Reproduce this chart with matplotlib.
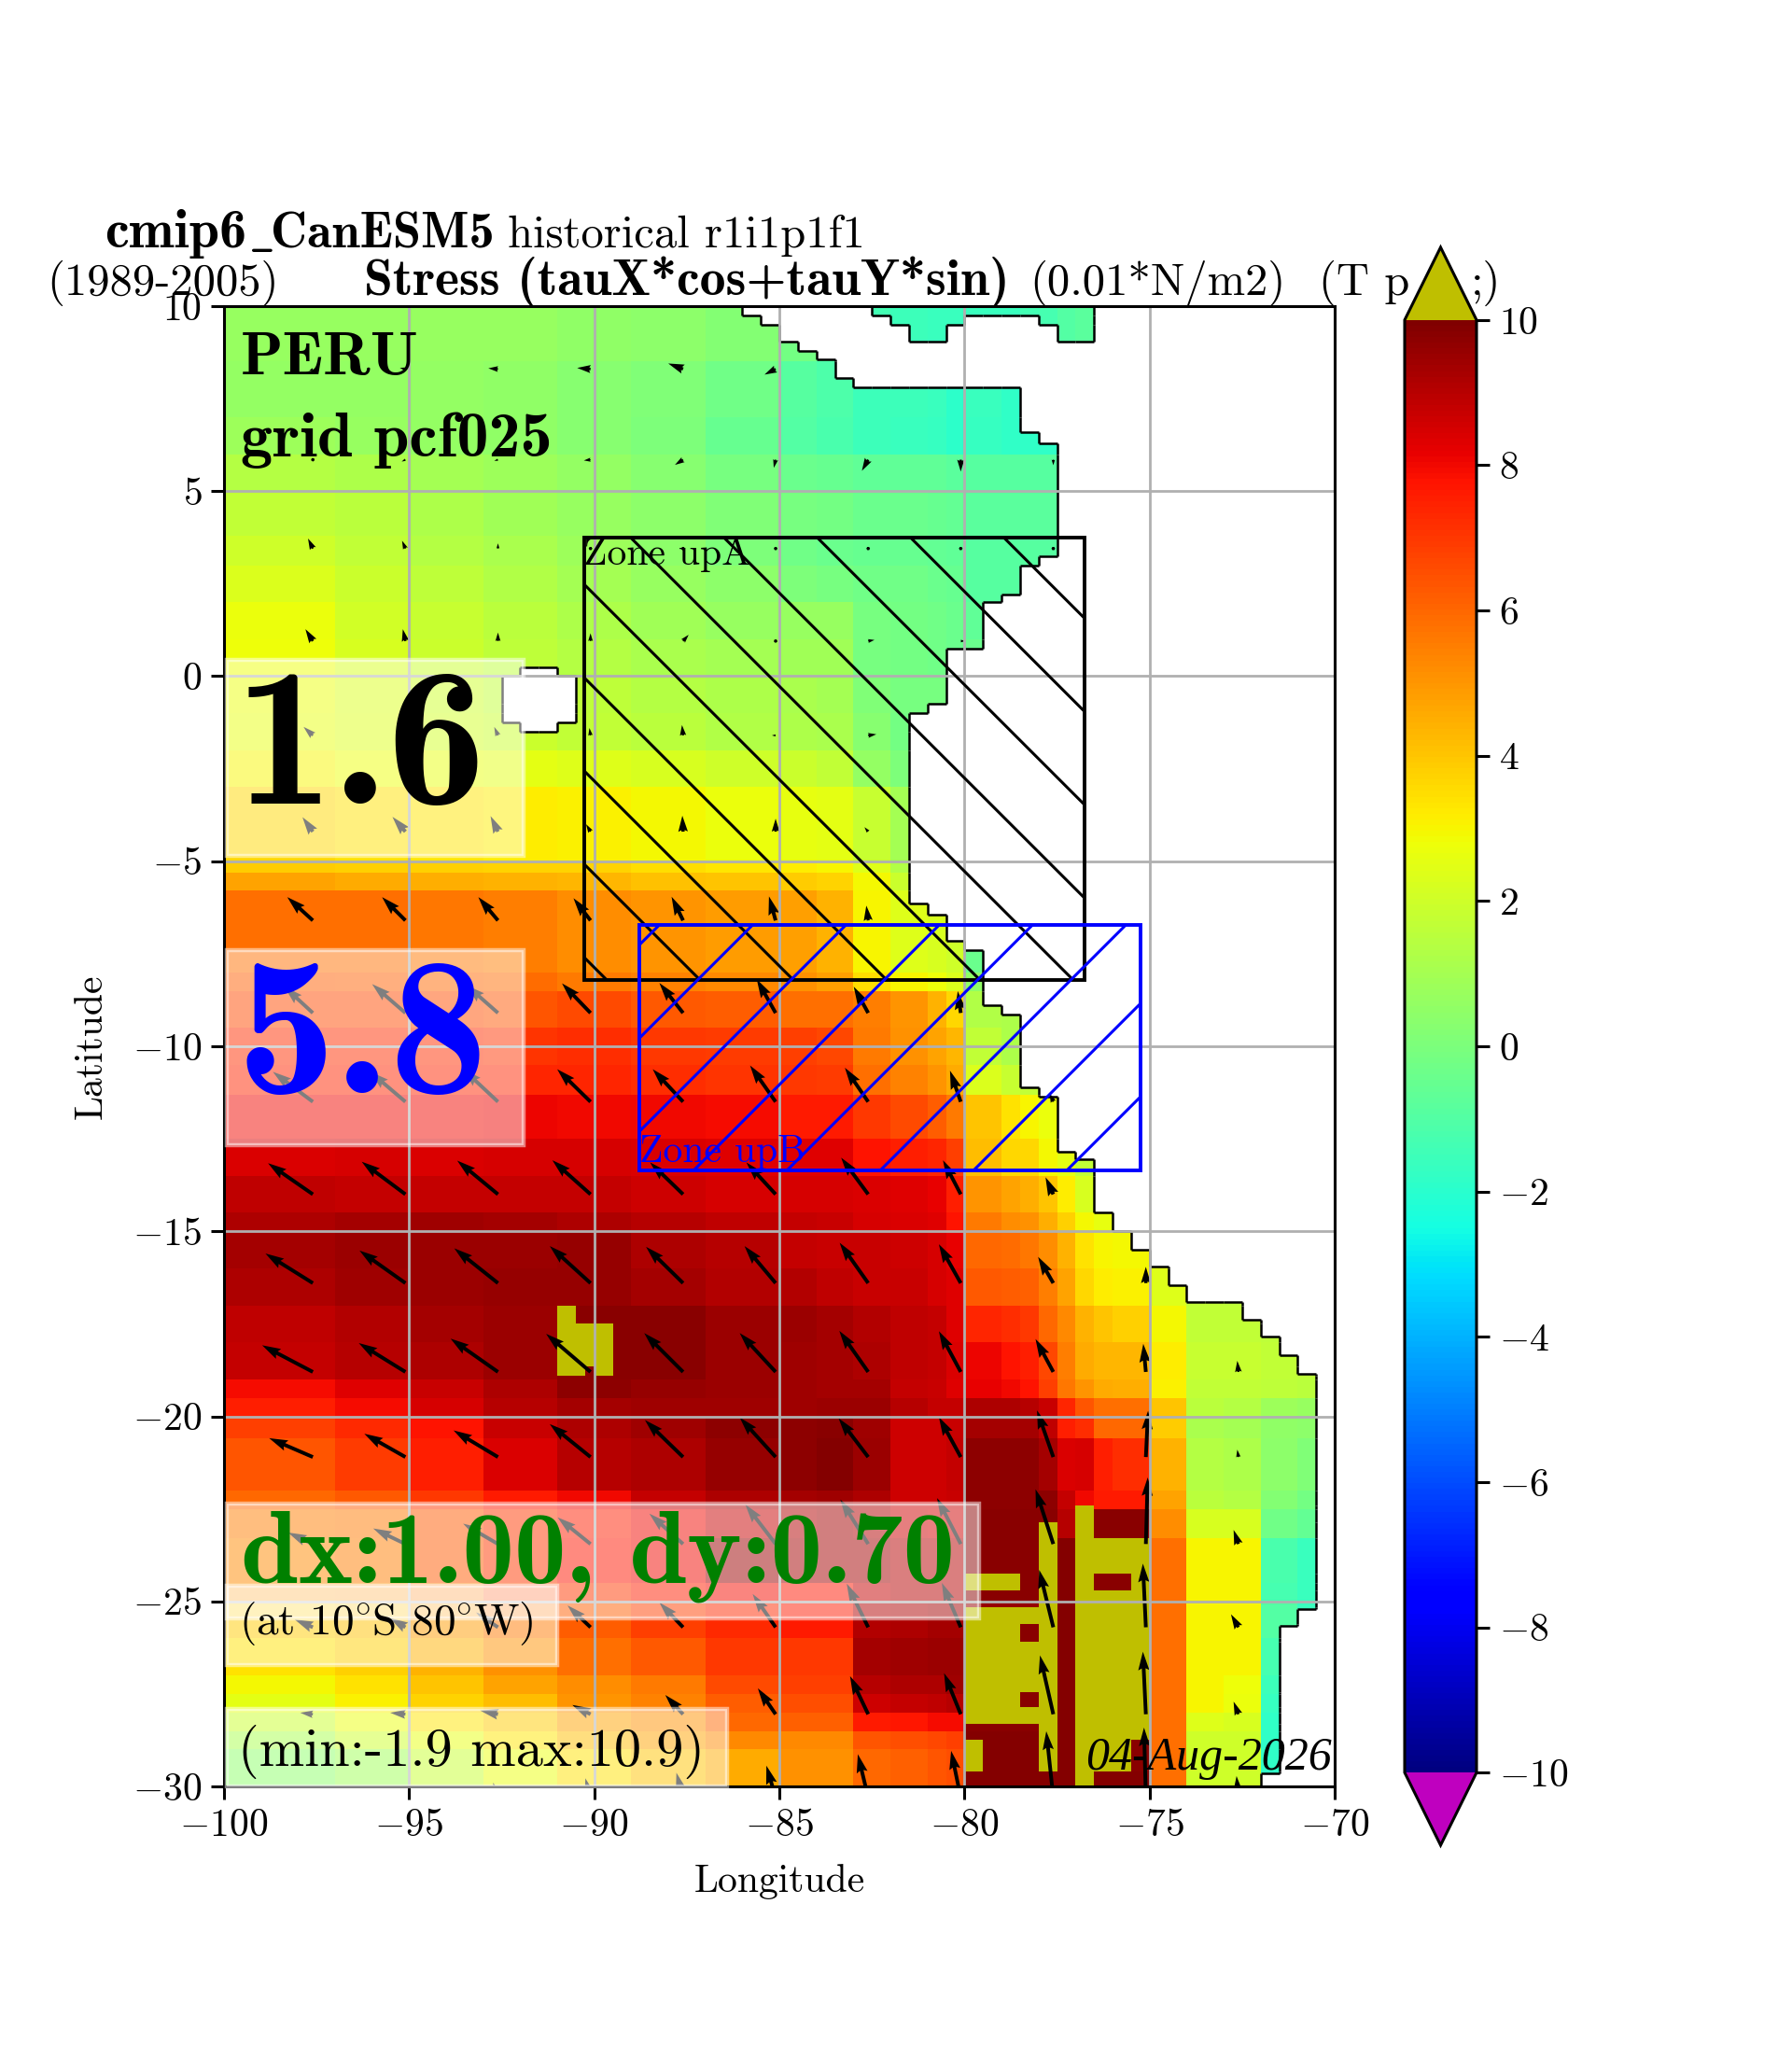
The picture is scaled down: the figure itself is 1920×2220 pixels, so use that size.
import numpy as np
import matplotlib
matplotlib.use("Agg")
import matplotlib.pyplot as plt
from matplotlib.collections import LineCollection
from matplotlib.patches import Rectangle

plt.rcParams["font.family"] = ["cmr10"]
plt.rcParams["mathtext.fontset"] = "cm"
plt.rcParams["axes.formatter.use_mathtext"] = True
plt.rcParams["font.size"] = 15
plt.rcParams["axes.linewidth"] = 1.1
for side in ["xtick", "ytick"]:
    plt.rcParams[side + ".major.size"] = 5
    plt.rcParams[side + ".major.width"] = 1.1

# left edges of the colour blocks, last one closes the grid
field_lon = [-100, -97, -95, -93, -91, -89, -87, -85, -84, -83, -82, -81, -80.5, -80,
             -79, -78.5, -78, -77.5, -77, -76.5, -76, -75, -74, -73, -72, -71, -70]
field_lat = [10, 8.5, 7, 6, 5, 3.8, 3, 2, 1, 0, -1, -2, -3, -5, -5.3, -5.8, -8, -8.5, -9.5,
             -10.5, -11.3, -12.5, -13.5, -14.5, -15, -16, -17, -18, -19, -19.5, -20, -20.6,
             -22, -22.5, -23.3, -24.5, -25, -26, -27, -27.5, -28, -28.5, -29, -30]

# stress values, one list per latitude band (short lists stop at the coast)
field_rows = [
    [.7, .7, .7, .7, .5, .4, .2, -.2, -.6, -1.4, -1.5, -1.6, -1.6, -1.6, -1.6, -1.4, -1.3, -1, -.8, -.8],
    [.6, .6, .6, .5, .3, .1, -.3, -.9, -1.1, -1.5, -1.5, -1.6, -1.9, -1.6, -1.8, -1.8, -1.8, -1.8],
    [.8, .7, .6, .5, .3, 0, -.5, -1, -1.2, -1.5, -1.6, -1.7, -1.9, -1.7, -1.8, -1.8, -1.8, -1.8],
    [1.4, 1.2, 1, .8, .6, .3, -.1, -.4, -.5, -.7, -.7, -.7, -.8, -.9, -.9, -.9, -.9, -.9],
    [1.7, 1.5, 1.2, .9, .7, .4, .1, -.1, -.2, -.4, -.4, -.5, -.6, -.8, -.8, -.8, -.8, -.8],
    [2, 1.7, 1.4, 1.1, .8, .4, 0, -.3, -.4, -.5, -.5, -.6, -.7, -.9, -.9, -.9, -.9, -.9, -.9],
    [2.3, 1.9, 1.6, 1.3, 1, .7, .4, 0, -.1, -.3, -.3, -.4, -.5, -.9, -.9, -.9, -.9],
    [2.7, 2.1, 1.8, 1.5, 1.2, .9, .7, .7, .7, -.1, -.2, -.3, -.4, -.7, -.7],
    [2.8, 2.2, 1.9, 1.6, 1.4, 1.1, 1, .9, .9, -.1, -.2, -.3, -.4, -.4],
    [2.7, 2.3, 2, 1.7, 1.6, 1.4, 1.2, 1.1, 1, .1, -.1, -.1, -.1],
    [2.6, 2.4, 2.1, 1.9, 1.7, 1.5, 1.3, 1.2, 1.1, .3, -.2, -.2],
    [3, 2.8, 2.6, 2.5, 2.4, 2.2, 2, 1.9, 1.7, .6, 0, 0],
    [3.6, 3.4, 3.3, 3.2, 3.1, 2.9, 2.7, 2.6, 2.5, 1.8, 1, 1],
    [3.9, 3.8, 3.8, 3.7, 3.7, 3.5, 3.3, 3.2, 3, 2.4, 1.3, 1.3],
    [4.7, 4.6, 4.5, 4.4, 4.3, 4.1, 4, 3.9, 3.7, 2.9, 1.9, 1.5, 1.5],
    [5.8, 5.8, 5.7, 5.5, 5.2, 5, 4.9, 4.8, 4.4, 3, 2.4, 2.2, 2, -.4],
    [6.2, 6.1, 6, 5.9, 5.6, 5.4, 5.3, 5.1, 4.8, 3.5, 3, 2.8, 2.3, .5],
    [6.6, 6.6, 6.5, 6.4, 6.6, 6.3, 6.2, 5.8, 5.8, 5.5, 5, 4.4, 3.6, 1.3, 1.2],
    [7.2, 7.2, 7.2, 7.1, 7.2, 7, 6.9, 6.8, 6.7, 5.6, 5.1, 4.7, 4.3, 1.7, 1.2, 1.2],
    [7.4, 7.4, 7.4, 7.4, 7.4, 7.2, 7.1, 7, 6.9, 5.8, 5.4, 5, 4.6, 2.3, 1.8, 1.7, 1.7],
    [8, 8, 8, 8.1, 8, 8, 7.9, 7.6, 7.6, 7, 6.6, 6.2, 5.6, 4, 3.4, 3, 2.7, 2.7],
    [8.4, 8.5, 8.4, 8.5, 8.5, 8.4, 8.3, 8.3, 8.3, 7.8, 7.5, 7.4, 6.8, 4.2, 3.6, 3.6, 2.9, 2.5, 1.7, 1.7],
    [8.9, 8.8, 8.8, 8.8, 8.8, 8.6, 8.5, 8.5, 8.5, 8.4, 8.3, 8.2, 7.5, 5, 4.7, 4.5, 4, 3.2, 2.2, 2.2],
    [9.2, 9.3, 9.4, 9.3, 9.2, 9, 8.9, 8.8, 8.7, 8.5, 8.4, 8.3, 7.8, 5.6, 5.2, 5.1, 4.5, 3.8, 2.9, 2.6],
    [9.3, 9.5, 9.5, 9.5, 9.6, 9.2, 9, 8.8, 8.7, 8.7, 8.6, 8.5, 8.2, 6, 5.9, 5.7, 5.2, 4.4, 3.4, 3, 2.9, 2.9],
    [9.2, 9.4, 9.5, 9.6, 9.6, 9.3, 9.1, 9.1, 8.9, 8.7, 8.7, 8.5, 8.3, 6.3, 6.2, 6.1, 5.5, 4.7, 3.6, 3.2, 3.1, 2.4, 1.7, 1.6],
    [8.9, 9.1, 9.3, 9.5, 9.8, 9.8, 9.5, 9.5, 9.3, 9.1, 8.9, 8.8, 8.3, 7.4, 7.2, 7, 6, 5.3, 4.4, 4, 3.8, 2.9, 1.7, 1.7, 1.6],
    [8.8, 9, 9.2, 9.5, 9.8, 9.8, 9.5, 9.4, 9.3, 9.2, 8.9, 8.8, 8.4, 8.1, 7.8, 7.5, 6.7, 5.5, 4.6, 4.3, 4.3, 3.2, 1.8, 1.8, 1.7, 1.6],
    [7.9, 8.3, 8.7, 9.2, 9.7, 9.6, 9.5, 9.4, 9.3, 9.3, 8.8, 8.7, 8.3, 8.2, 8, 7.8, 6.8, 5.7, 5, 4.6, 4.5, 3.1, 1.7, 1.7, 1.6, 1.5],
    [7.5, 7.9, 8.5, 9, 9.3, 9.4, 9.4, 9.4, 9.5, 9.5, 9, 8.8, 8.8, 9.2, 9.2, 9, 8.7, 7.4, 6.4, 5.8, 5.8, 4, 1.5, 1.4, .8, .7],
    [6.8, 7.3, 7.8, 8.7, 9.2, 9.4, 9.7, 9.7, 9.8, 9.4, 8.6, 8.6, 8.7, 9.3, 9.3, 9.3, 8.9, 7.5, 7.2, 6, 6, 3.9, 1.1, 1, .5, .4],
    [6.4, 6.9, 7.5, 8.4, 9, 9.2, 9.6, 9.7, 9.9, 9.5, 8.6, 8.6, 8.8, 9.7, 9.7, 9.7, 9.3, 8.4, 8.5, 7.5, 7.2, 4.4, 1.4, 1.2, .4, .1],
    [6, 6.3, 7, 7.6, 8, 8.8, 9.2, 9.3, 9.4, 9.2, 8.6, 8.6, 8.7, 9.7, 9.7, 9.7, 9.7, 8.8, 8, 7.6, 7.6, 4.7, 1.5, 1.4, .2, -.2],
    [5.5, 5.6, 6.3, 7, 7.5, 8, 8.7, 9.1, 9.3, 9.1, 8.6, 8.5, 8.6, 9.8, 9.8, 9.8, 9.8, 9, 9.9, 9.8, 9.8, 5.2, 2.2, 2.2, -.3, -.6],
    [5.3, 5.5, 6.3, 7, 7.7, 8, 9.5, 9.3, 9.3, 9.3, 9, 9, 9, 9.8, 9.8, 9.8, 9.8, 9.9, 9.9, 9.9, 9.9, 5.8, 3, 3, -1.2, -1.6],
    [5, 5.1, 5.5, 6.5, 7, 7.5, 7.9, 7.7, 7.7, 8.8, 9, 9, 9, 9.8, 9.8, 9.8, 9.8, 9.9, 9.9, 9.9, 9.9, 5.8, 3, 3, -1.3, -1.6],
    [3.9, 4.1, 4.9, 5.6, 6.2, 6.8, 7.3, 7.6, 7.6, 9.1, 9.2, 9.3, 9.3, 9.6, 9.6, 9.6, 9.8, 9.9, 9.9, 9.9, 9.9, 5.8, 3, 3, -1, -1.6],
    [3.4, 3.8, 4.4, 5.1, 5.8, 6.3, 7, 7, 7, 9.3, 9.4, 9.5, 9.5, 9.6, 9.6, 9.6, 9.8, 9.9, 9.9, 9.9, 9.9, 5.8, 3, 3, -1.3, -1.6],
    [2.9, 3.4, 4, 4.7, 5.2, 5.6, 6.6, 6.8, 6.8, 9, 9.2, 9.2, 9.4, 9.6, 9.6, 9.6, 9.8, 9.9, 9.9, 9.9, 9.9, 5.8, 3, 2.8, -1.5, -1.6],
    [2.5, 3.1, 3.7, 4.2, 5, 5.4, 6.2, 6.5, 6.5, 8.6, 8.8, 8.9, 9, 9.6, 9.6, 9.6, 9.8, 9.9, 9.9, 9.9, 9.9, 5.8, 3, 2.7, -1.7, -1.6],
    [1.9, 2.7, 3.3, 3.9, 4.7, 5.1, 6, 6.1, 6.1, 7.6, 7.7, 7.9, 7.9, 9.8, 9.8, 9.8, 9.8, 9.9, 9.9, 9.9, 9.9, 5.8, 2.4, 2.2, -1.8, -1.6],
    [1.1, 2, 2.6, 3.3, 4.2, 4.7, 5.3, 5.3, 5.3, 6.4, 6.5, 6.7, 6.8, 9.9, 9.9, 9.9, 9.9, 9.9, 9.9, 9.9, 9.9, 5.8, 2, 2, -1.8, -1.6],
    [.4, .9, 1.8, 2.7, 3.4, 4, 4.6, 5.1, 5.1, 6, 6.1, 6.4, 6.5, 9.9, 9.9, 9.9, 9.9, 9.9, 9.9, 9.9, 9.9, 5.8, 2, 2, -1.8, -1.6],
]

# blocks above the colour range: lon west, lon east, lat north, lat south
over_blocks = [
    (-91, -90.5, -17, -18.9), (-90.5, -89.5, -17.5, -18.9),
    (-78, -77.5, -22.85, -29.6), (-77, -76.5, -22.4, -30), (-76.5, -75, -23.3, -29.6),
    (-80, -78.5, -24.25, -24.7), (-80, -78, -25.15, -28.3), (-80, -79.5, -28.75, -29.6),
]
# dark holes left inside those blocks
hole_blocks = [
    (-90.25, -90, -18.65, -18.9), (-76.5, -75.5, -24.25, -24.7), (-75.5, -75, -28.75, -29.6),
    (-78.5, -78, -25.6, -26.1), (-78.5, -78, -27.45, -27.85),
]

# coast: north edge of each step and the eastern limit of the sea below it
coast_lat = [10, 9.75, 9.5, 9.05, 8.8, 8.55, 8.05, 7.8, 6.6, 6.3, 3.25, 3, 2.2, 2, 0.75, -0.75, -1,
             -6.15, -6.45, -7.15, -7.4, -8.9, -9.15, -11.1, -11.35, -12.85, -13.05, -14.5, -15,
             -15.5, -15.95, -16.45, -16.9, -17.4, -17.85, -18.35, -18.85, -25.2, -25.65, -29.65, -30]
coast_lon = [-86, -85.5, -85, -84.5, -84, -83.5, -83, -78.5, -78, -77.5, -78, -78.5, -79, -79.5,
             -80.5, -81, -81.5, -81, -80.5, -80, -79.5, -79, -78.5, -78, -77.5, -77, -76.5, -76,
             -75.5, -75, -74.5, -74, -72.5, -72, -71.5, -71, -70.5, -71, -71.5, -72]
# sea north of the isthmus
gulf_blocks = [(-82.5, -76.5, 10, 9.75), (-82, -80, 9.75, 9.5), (-78, -76.5, 9.75, 9.5),
               (-81.5, -80.5, 9.5, 9.05), (-77.5, -76.5, 9.5, 9.05)]
# the island
island_blocks = [(-92, -91, 0.25, 0), (-92.5, -90.5, 0, -1.25), (-92, -91, -1.25, -1.5)]

# wind stress arrows, tails on this grid, one row per latitude
arrow_lon = [-97.6, -95.1, -92.6, -90.1, -87.6, -85.1, -82.6, -80.1, -77.6, -75.1, -72.6]
arrow_lat = [8.3, 5.85, 3.45, 0.95, -1.6, -4.2, -6.6, -9.1, -11.5, -14, -16.4, -18.8, -21.1,
             -23.45, -25.7, -28.05, -30.3]
nan = np.nan
arrow_u = [
    [-.1, -.15, -.26, -.36, -.4, -.3, nan, nan, nan, nan, nan],
    [-.05, -.1, -.1, -.18, -.22, -.05, -.17, 0, 0, nan, nan],
    [-.13, -.09, 0, 0, 0, 0, 0, 0, .05, nan, nan],
    [-.2, -.07, 0, 0, .15, -.08, .17, .12, nan, nan, nan],
    [-.25, -.1, -.1, -.03, -.03, -.1, .22, nan, nan, nan, nan],
    [-.28, -.35, -.2, -.12, -.02, 0, -.1, nan, nan, nan, nan],
    [-.69, -.63, -.53, -.46, -.31, -.18, -.05, nan, nan, nan, nan],
    [-.77, -.9, -.85, -.77, -.64, -.51, -.39, -.08, nan, nan, nan],
    [-1.08, -.95, -.94, -.9, -.82, -.69, -.63, -.29, -.1, nan, nan],
    [-1.21, -1.18, -1.1, -1.03, -.89, -.79, -.73, -.48, -.21, nan, nan],
    [-1.28, -1.24, -1.18, -1.1, -1, -.84, -.77, -.59, -.41, 0, nan],
    [-1.37, -1.26, -1.28, -1.2, -1.05, -.97, -.78, -.59, -.48, -.07, -.03],
    [-1.18, -1.11, -1.2, -1.1, -1.03, -.97, -.8, -.59, -.44, .06, -.03],
    [-.67, -.87, -.94, -.89, -.91, -.82, -.75, -.64, -.48, .05, -.13],
    [-.49, -.42, -.59, -.62, -.64, -.62, -.58, -.51, -.38, -.08, -.2],
    [-.34, -.41, -.48, -.49, -.48, -.48, -.49, -.45, -.36, -.08, -.13],
    [-.02, -.03, -.13, -.14, -.18, -.25, -.28, -.26, -.19, -.05, -.05],
]
arrow_v = [
    [-.05, .03, .02, .03, .15, -.15, nan, nan, nan, nan, nan],
    [-.05, -.05, -.03, -.02, -.14, -.22, -.3, -.32, -.15, nan, nan],
    [.27, .21, .14, 0, 0, 0, 0, 0, 0, nan, nan],
    [.32, .32, .23, .21, .17, .05, .03, 0, nan, nan, nan],
    [.23, .1, .23, .2, .28, 0, .03, nan, nan, nan, nan],
    [.39, .4, .42, .2, .43, .35, .12, nan, nan, nan, nan],
    [.63, .63, .63, .6, .64, .65, .4, nan, nan, nan, nan],
    [.71, .78, .75, .8, .81, .91, .71, .59, nan, nan, nan],
    [.81, .81, .88, .88, .88, .98, .92, .84, .23, nan, nan],
    [.84, .88, .91, .92, .86, .86, .99, .92, .46, nan, nan],
    [.8, .88, .94, 1, .98, 1, 1.09, 1.05, .71, .44, nan],
    [.72, .78, .9, 1.03, 1.05, 1.05, 1.11, 1.1, .89, .76, .3],
    [.51, .63, .72, .89, 1, 1.07, 1.05, 1.08, 1.26, 1.25, .2],
    [.31, .42, .55, .72, .82, 1.07, 1.2, 1.24, 1.48, 1.8, .38],
    [.21, .25, .4, .59, .67, .9, 1.18, 1.2, 1.55, 1.72, .35],
    [.04, .04, .1, .25, .52, .7, 1.03, 1.11, 1.59, 1.69, .34],
    [.1, .31, .4, .52, .67, .86, 1.17, 1.26, 1.79, 1.89, .58],
]

zone_a = (-90.27, -76.75, -8.22, 3.75)
zone_b = (-88.78, -75.25, -13.35, -6.73)
color_ticks = list(range(-10, 11, 2))


def in_block(lon, lat, block):
    return block[0] <= lon < block[1] and block[3] <= lat < block[2]


def in_any(lon, lat, blocks):
    return any(in_block(lon, lat, b) for b in blocks)


# grid edges: every place where a colour or the coast changes
lon_set = set(field_lon) | set(np.arange(-100, -69.5, 0.5).tolist())
lat_set = set(field_lat) | set(coast_lat)
for b in over_blocks + hole_blocks + gulf_blocks + island_blocks:
    lon_set |= {b[0], b[1]}
    lat_set |= {b[2], b[3]}
lon_edges = np.array(sorted(lon_set))
lat_edges = np.array(sorted(lat_set))
lon_mid = 0.5 * (lon_edges[:-1] + lon_edges[1:])
lat_mid = 0.5 * (lat_edges[:-1] + lat_edges[1:])

field = np.full((len(lat_mid), len(lon_mid)), np.nan)
sea = np.zeros(field.shape, dtype=bool)
for j, la in enumerate(lat_mid):
    irow = int(np.searchsorted(-np.array(field_lat), -la)) - 1
    row = field_rows[irow]
    icoast = int(np.searchsorted(-np.array(coast_lat), -la)) - 1
    for i, lo in enumerate(lon_mid):
        icol = int(np.searchsorted(field_lon, lo)) - 1
        if icol < len(row):
            field[j, i] = row[icol]
        else:
            field[j, i] = row[-1]
        sea[j, i] = lo < coast_lon[icoast] or in_any(lo, la, gulf_blocks)
        if in_any(lo, la, island_blocks):
            sea[j, i] = False
        if in_any(lo, la, over_blocks):
            field[j, i] = 11
        if in_any(lo, la, hole_blocks):
            field[j, i] = 9.8
field = np.ma.masked_where(~sea, field)

cmap = plt.get_cmap("jet").copy()
cmap.set_over((0.75, 0.75, 0))
cmap.set_under((0.75, 0, 0.75))
cmap.set_bad("white")

fig = plt.figure(figsize=(9.6, 11.1), dpi=200)
ax = fig.add_axes([240 / 1920, 1 - 1914 / 2220, 1190 / 1920, 1586 / 2220])
mesh = ax.pcolormesh(lon_edges, lat_edges, field, cmap=cmap, vmin=-10, vmax=10, zorder=1)

# stepped coast line
segs = []
for j in range(sea.shape[0]):
    for i in range(sea.shape[1]):
        if i + 1 < sea.shape[1] and sea[j, i] != sea[j, i + 1]:
            segs.append([(lon_edges[i + 1], lat_edges[j]), (lon_edges[i + 1], lat_edges[j + 1])])
        if j + 1 < sea.shape[0] and sea[j, i] != sea[j + 1, i]:
            segs.append([(lon_edges[i], lat_edges[j + 1]), (lon_edges[i + 1], lat_edges[j + 1])])
ax.add_collection(LineCollection(segs, colors="k", linewidths=0.9, zorder=1.3))

ax.quiver(arrow_lon, arrow_lat, np.ma.masked_invalid(arrow_u), np.ma.masked_invalid(arrow_v),
          angles="xy", scale_units="xy", scale=1, units="xy", width=0.1, pivot="tail",
          color="k", zorder=1.2)

ax.set_xlim(-100, -70)
ax.set_ylim(-30, 10)
ax.set_aspect("auto")
ax.set_xticks(range(-100, -69, 5))
ax.set_yticks(range(-30, 11, 5))
ax.grid(True, color="#b0b0b0", linewidth=1.0)
ax.set_xlabel("Longitude", labelpad=8)
ax.set_ylabel("Latitude", labelpad=9)

# zones with hand spaced hatching
for zone, color, sign, start in [(zone_a, "k", -1, -89.02), (zone_b, "b", 1, -87.31)]:
    x0, x1, y0, y1 = zone
    rect = Rectangle((x0, y0), x1 - x0, y1 - y0, fill=False, ec=color, lw=1.4, zorder=2)
    ax.add_patch(rect)
    ref_lat = y1 if sign < 0 else y0
    for k in range(-8, 9):
        x_ref = start + k * 2.52
        xs = np.array([x0, x1])
        line, = ax.plot(xs, ref_lat + sign * (xs - x_ref), color=color, lw=1.1, zorder=2)
        line.set_clip_path(rect)

ax.text(-90.3, 3.3, "Zone upA", color="k", fontsize=15, va="center", zorder=3)
ax.text(-88.78, -12.85, "Zone upB", color="b", fontsize=15, va="center", zorder=3)

# pale boxes behind the large labels: lon west, lon east, lat south, lat north
text_boxes = [
    (-99.93, -91.9, -4.86, 0.43), (-99.93, -91.9, -12.68, -7.39), (-99.93, -79.6, -25.46, -22.36),
    (-99.93, -91, -26.71, -24.57), (-99.93, -86.4, -30, -27.9),
]
for x0, x1, y0, y1 in text_boxes:
    ax.add_patch(Rectangle((x0, y0), x1 - x0, y1 - y0, fc=(1, 1, 1, 0.5), ec=(1, 1, 1, 0.5),
                           lw=1.6, zorder=3.5, clip_on=False))

bold = ["cmb10"]
ax.text(-99.55, 8.15, "PERU", family=bold, fontsize=24, va="baseline", zorder=4)
ax.text(-99.55, 5.95, "grid pcf025", family=bold, fontsize=24.5, va="baseline", zorder=4)
ax.text(-99.7, -3.45, "1.6", family=bold, fontsize=76, color="k", va="baseline", zorder=4)
ax.text(-99.65, -11.25, "5.8", family=bold, fontsize=76, color="b", va="baseline", zorder=4)
ax.text(-99.55, -24.5, "dx:1.00, dy:0.70", family=bold, fontsize=40, color="g", va="baseline", zorder=4)
ax.text(-99.6, -25.9, r"(at 10$\!^\circ\!$S 80$\!^\circ\!$W)", fontsize=17, va="baseline", zorder=4)
ax.text(-99.62, -29.45, "(min:-1.9 max:10.9)", fontsize=21, va="baseline", zorder=4)
ax.text(-70.08, -29.55, "04-Aug-2026", family=["Liberation Serif"], style="italic", fontsize=18,
        ha="right", va="baseline", zorder=4)


# title pieces, placed from the left edge in figure pixels
def fig_text(px, py, s, size=17.5, **kw):
    fig.text(px / 1920, 1 - py / 2220, s, va="baseline", fontsize=size, **kw)


# cmb10 has no underscore glyph, so the run is split around one from mathtext
fig_text(112, 265, "cmip6", size=21, family=bold)
fig_text(266, 265, r"$\_$", size=19)
fig_text(290, 265, "CanESM5", size=19.5, family=bold)
fig_text(544, 265, "historical r1i1p1f1")
fig_text(50, 316, "(1989-2005)")
fig_text(390, 316, "Stress (tauX*cos+tauY*sin)", size=20, family=bold)
fig_text(1103, 316, "(0.01*N/m2)")
# the colour bar tip hides the middle of this last title piece
fig_text(1413, 316, "(T p")
fig_text(1576, 316, ";)")

cax = fig.add_axes([1505 / 1920, 1 - 1977 / 2220, 77 / 1920, 1712 / 2220])
cbar = fig.colorbar(mesh, cax=cax, extend="both", ticks=color_ticks)
cbar.outline.set_linewidth(1.1)
cax.patch.set_alpha(0)

fig.savefig("out.png", dpi=200)
